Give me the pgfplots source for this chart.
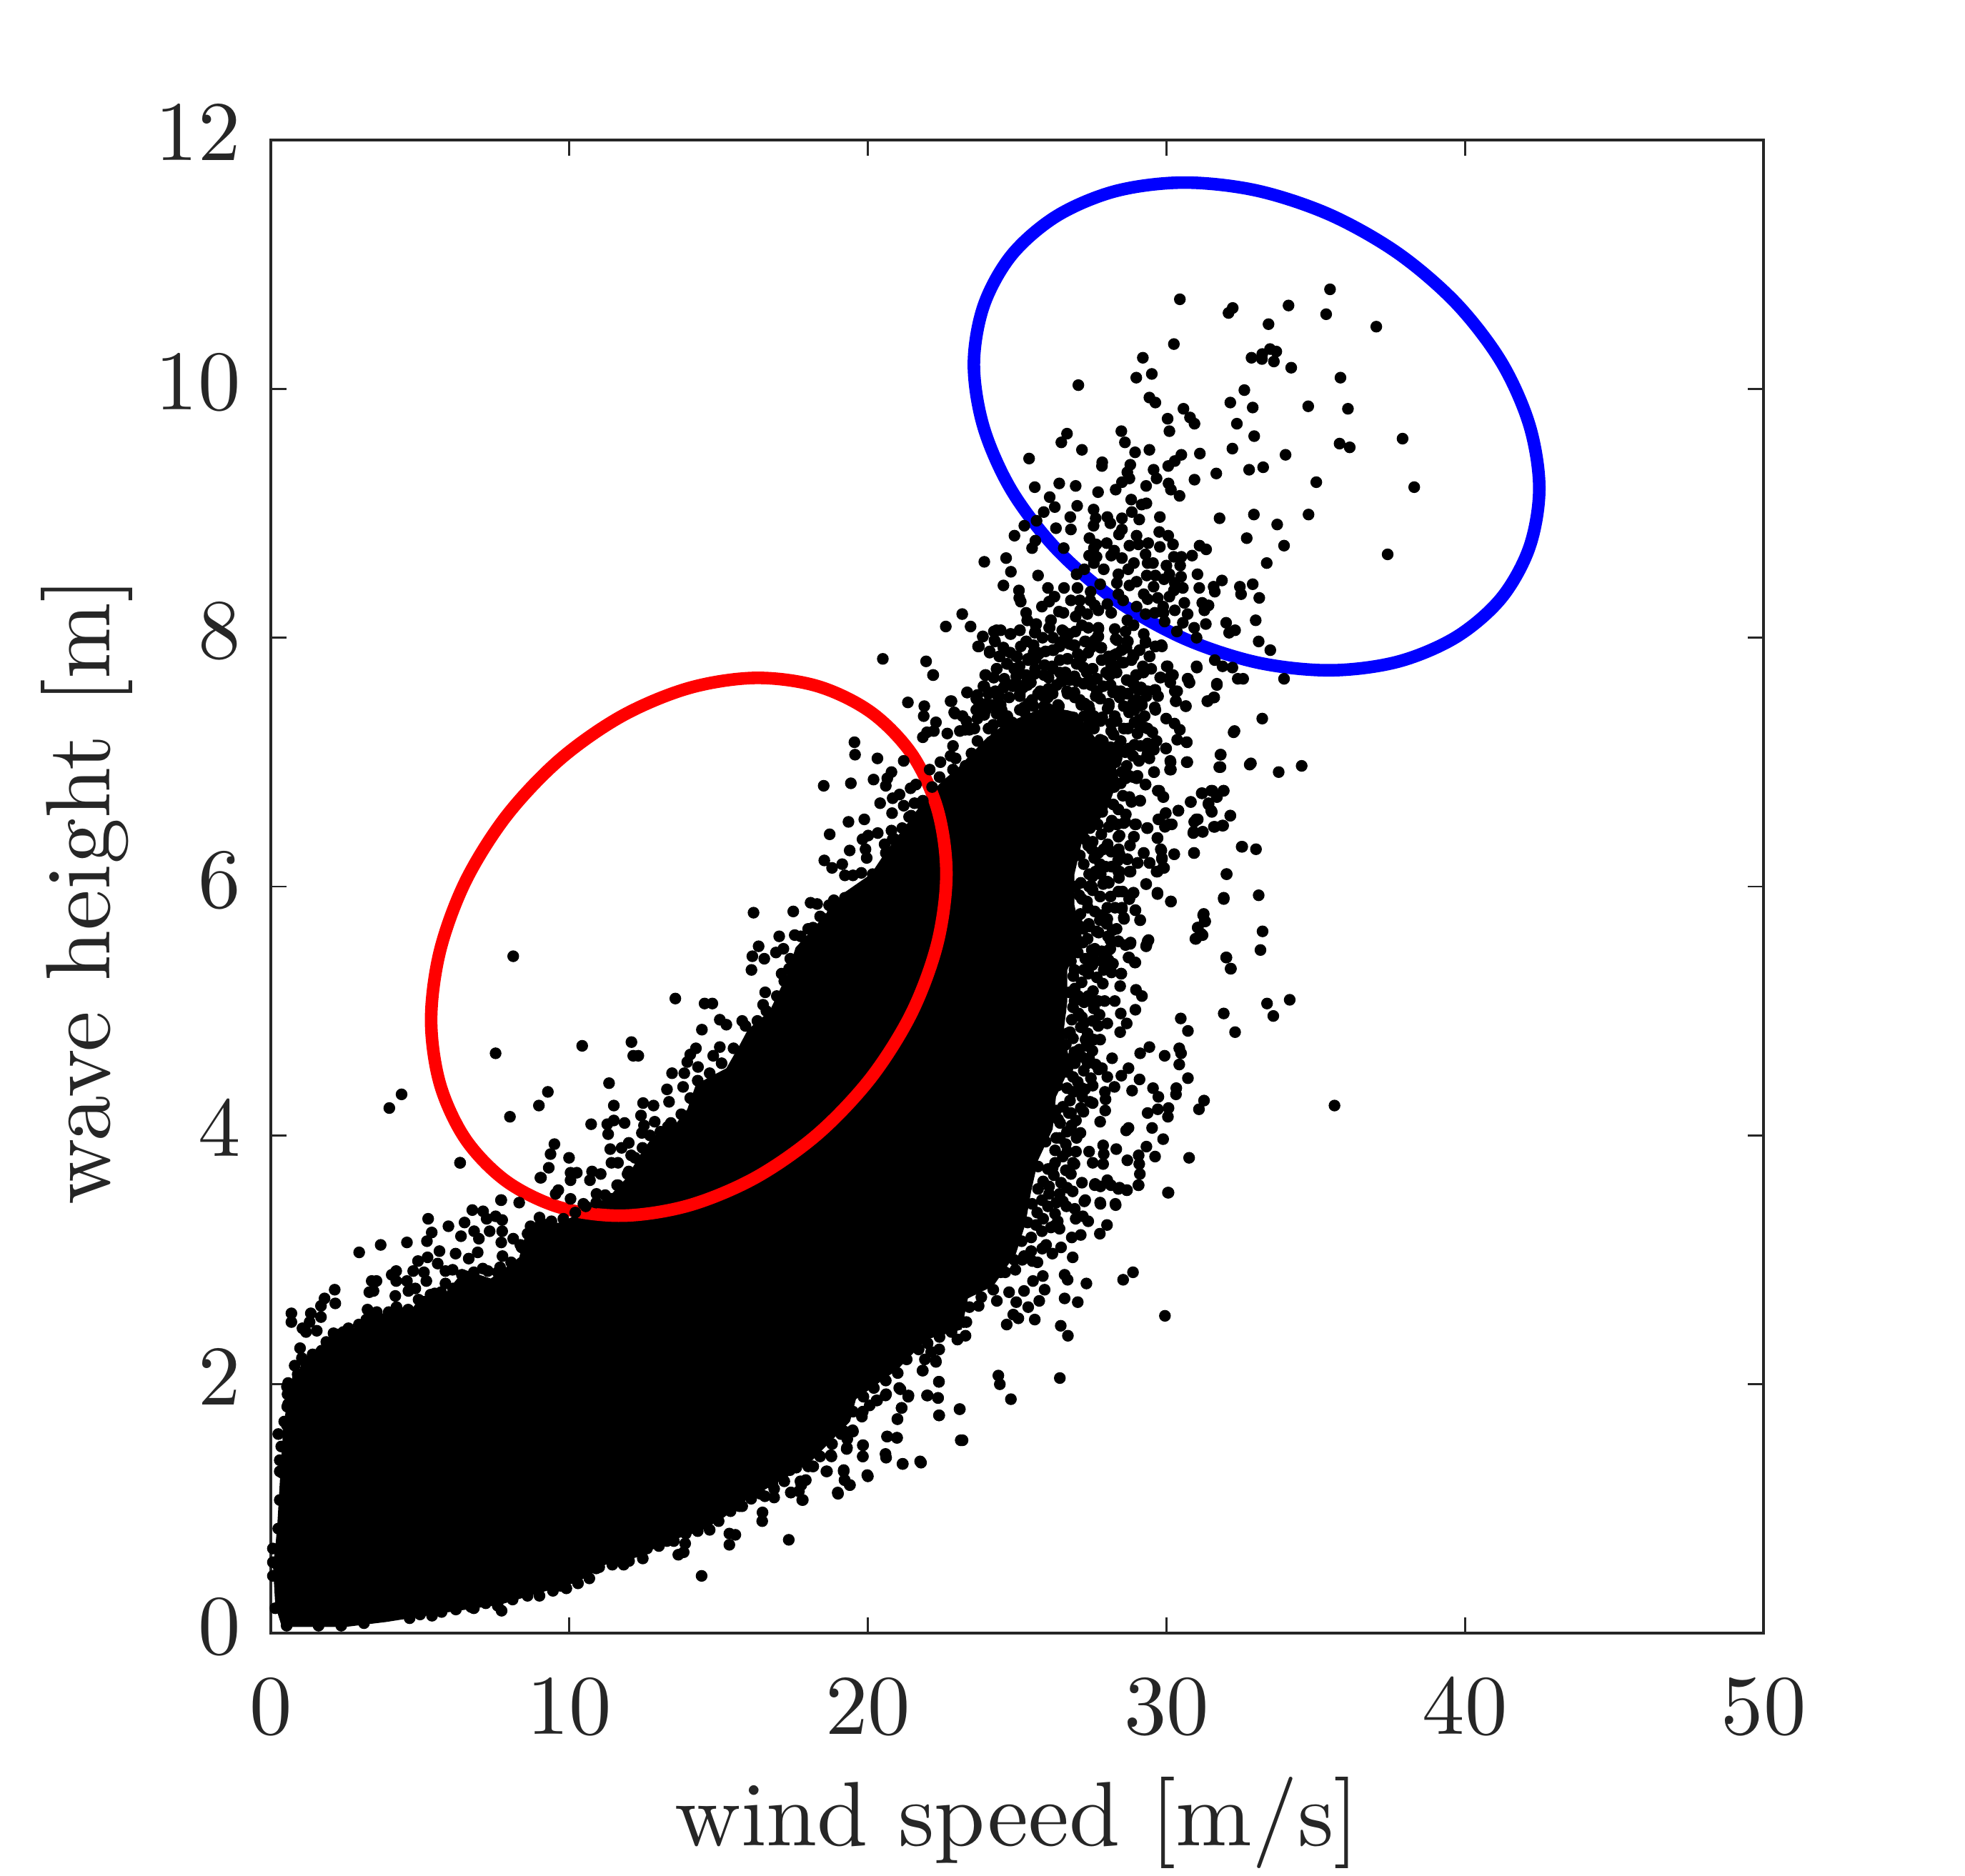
\documentclass[border=0pt]{standalone}
\usepackage{pgfplots}
\pgfplotsset{compat=1.18}
\definecolor{axgray}{gray}{0.15}
\begin{document}
\begin{tikzpicture}
\path[use as bounding box] (-94.75pt,-84.75pt) rectangle (592.75pt,571.5pt);
\begin{axis}[
  at={(0pt,0pt)},anchor=south west,
  scale only axis,width=522.25pt,height=522.5pt,
  xmin=0,xmax=50,ymin=0,ymax=12,
  xtick={0,10,...,50},ytick={0,2,...,12},
  tick align=inside,major tick length=5.4pt,
  axis line style={color=axgray,line width=1pt},
  every tick/.style={color=axgray,line width=0.7pt},
  tick label style={color=axgray,font=\fontsize{10}{12}\selectfont,inner sep=0pt},
  xticklabel style={anchor=base,yshift=-35.25pt,scale=2.97,transform shape},
  yticklabel style={anchor=base east,xshift=-10pt,yshift=-7.25pt,scale=2.97,transform shape},
  xlabel={wind speed [m/s]},ylabel={wave height [m]},
  label style={color=axgray,font=\fontsize{10}{12}\selectfont,inner sep=0pt},
  xlabel style={at={(axis description cs:0.5,0)},anchor=base,yshift=-74.25pt,scale=3.2,transform shape},
  ylabel style={at={(axis description cs:0,0.5)},anchor=base,xshift=-1.5pt,yshift=56.25pt,scale=3.2,transform shape},
  scatterpts/.style={only marks,mark=*,mark size=1.85pt,mark options={draw=none,fill=black}},
]
% solid part of the cloud
\addplot[fill=black,draw=none] coordinates {
(.37,.05)(2.51,.05)(3.88,.09)(5.72,.16)(7.70,.23)(9.38,.35)(10.29,.41)(11.21,.55)(12.28,.61)(13.35,.74)
(14.41,.82)(15.18,.93)(15.79,1.05)(17.26,1.25)(18.1,1.38)(19.4,1.70)(19.6,1.88)(21.0,2.12)(21.96,2.36)(23.14,2.44)
(23.35,2.69)(24.2,2.79)(24.96,3.05)(25.28,3.29)(25.46,3.54)(25.7,3.80)(26.19,4.05)(26.3,4.31)(26.8,4.56)(26.55,4.82)
(26.68,5.08)(26.68,5.33)(27.17,5.59)(26.92,5.85)(26.92,6.10)(27.17,6.36)(28.02,6.62)(28.39,6.87)(28.15,7.13)(27.6,7.2)
(27.0,7.4)(26.0,7.45)(25.0,7.35)(24.0,7.2)(23.0,6.95)(22.5,6.85)(21.9,6.7)(21.3,6.5)(20.6,6.28)(20.1,6.1)
(19.2,5.95)(18.16,5.66)(17.58,5.51)(17.29,5.29)(16.71,5.00)(15.98,4.85)(15.69,4.72)(15.26,4.54)(14.24,4.41)(13.95,4.21)
(13.52,4.08)(12.79,3.99)(12.36,3.84)(11.92,3.66)(11.34,3.51)(10.5,3.4)(9.75,3.3)(8.96,3.29)(8.56,3.23)(8.32,3.02)
(7.77,2.92)(7.37,2.85)(6.49,2.92)(5.77,2.71)(5.05,2.71)(4.65,2.58)(3.69,2.56)(3.30,2.58)(2.90,2.46)(2.34,2.43)
(1.54,2.25)(1.06,2.18)(.58,1.91)(.42,1.66)(.30,1.21)(.22,.88)(.14,.66)(.07,.55)(.15,.22)(.37,.05)
} -- cycle;
% single points, top right
\addplot[scatterpts] coordinates {
(30.45,10.72)(32.22,10.65)(32.08,10.61)(34.09,10.67)(35.48,10.80)(35.35,10.60)(33.42,10.52)(37.03,10.50)(30.25,10.36)(29.21,10.25)
(32.85,10.25)(33.21,10.28)(33.20,10.24)(33.47,10.32)(33.68,10.30)(33.60,10.22)(34.18,10.17)(29.51,10.12)(28.99,10.09)(27.05,10.03)
(35.83,10.09)(29.43,9.93)(29.63,9.89)(32.61,9.99)(32.14,9.89)(32.89,9.85)(34.75,9.86)(36.08,9.84)(30.57,9.84)(30.79,9.77)
(30.94,9.72)(30.04,9.76)(32.36,9.72)(30.10,9.66)(28.49,9.66)(26.67,9.64)(26.48,9.57)(32.94,9.62)(37.91,9.60)(35.80,9.56)
(36.14,9.53)(28.61,9.57)(27.17,9.51)(28.95,9.49)(29.43,9.51)(32.21,9.52)(31.12,9.48)(30.50,9.47)(33.99,9.47)(25.40,9.44)
(27.85,9.41)(27.84,9.38)(28.79,9.39)(30.28,9.42)(30.06,9.38)(29.57,9.35)(33.24,9.37)(32.77,9.35)(31.67,9.32)(28.69,9.33)
(28.76,9.28)(29.67,9.28)(30.94,9.27)(28.51,9.25)(28.30,9.19)(35.02,9.25)(38.30,9.21)(25.59,9.21)(26.41,9.24)(26.96,9.22)
(29.32,9.22)(30.07,9.24)(30.15,9.19)(27.71,9.17)(30.44,9.14)(26.09,9.13)(28.82,9.11)(29.33,9.08)(29.17,9.07)(27.01,9.06)
(26.26,9.05)(25.89,9.01)(27.56,9.03)(28.84,9.01)(29.78,8.97)(31.78,8.96)(32.93,8.99)(34.76,8.99)(26.78,8.97)(28.02,8.97)
(27.63,8.96)(28.51,8.96)(29.09,8.95)(28.12,8.92)(33.71,8.91)(27.56,8.90)(25.24,8.90)(25.65,8.94)(26.30,8.88)(26.80,8.87)
(28.51,8.87)(29.76,8.85)(30.06,8.82)(24.91,8.82)(28.41,8.83)(29.00,8.82)(32.69,8.80)(27.42,8.80)(25.61,8.78)(28.00,8.76)
(29.39,8.76)(30.22,8.75)(33.94,8.74)(25.50,8.72)(26.56,8.72)(27.57,8.72)(29.78,8.73)(31.11,8.74)(31.33,8.71)(28.76,8.74)
(29.06,8.75)(27.41,8.66)(27.66,8.65)(28.15,8.66)(28.51,8.64)(29.30,8.67)(30.50,8.65)(30.86,8.66)(24.63,8.64)(23.90,8.61)
(28.91,8.60)(29.37,8.60)(27.57,8.60)(33.36,8.60)(37.41,8.67)(30.00,8.58)(30.46,8.58)(24.79,8.53)(25.70,8.50)(27.25,8.55)
(28.72,8.55)(31.04,8.51)(28.39,8.51)(29.34,8.50)(29.63,8.50)(30.10,8.51)(30.49,8.49)(29.92,8.47)(26.99,8.51)(31.86,8.46)
(28.34,8.44)(30.28,8.44)(32.89,8.43)(24.54,8.42)(27.78,8.43)(28.76,8.42)(29.57,8.41)(26.03,8.40)(26.57,8.40)(27.02,8.40)
(32.46,8.41)(31.58,8.41)(31.10,8.40)(30.55,8.40)(25.06,8.38)(31.62,8.37)(30.25,8.38)(27.46,8.37)(28.39,8.35)(29.24,8.35)
(32.50,8.35)(29.37,8.31)(30.10,8.33)(29.71,8.32)(33.11,8.32)(25.07,8.32)(26.25,8.33)(25.12,8.29)(26.80,8.30)(26.07,8.29)
(25.83,8.25)(30.60,8.28)(31.20,8.28)(31.41,8.26)(29.89,8.25)(29.00,8.25)(27.60,8.26)(28.02,8.27)(31.27,8.22)(30.28,8.22)
(27.11,8.22)(26.40,8.21)(29.61,8.20)(30.71,8.19)(29.30,8.19)(23.16,8.19)(22.61,8.09)(23.44,8.09)(25.34,8.14)(26.13,8.14)
(26.96,8.17)(27.35,8.19)(27.72,8.22)(28.69,8.14)(30.55,8.12)(29.94,8.13)(31.32,8.11)(32.00,8.12)(32.99,8.14)(32.30,8.06)
(32.10,8.04)(30.93,8.08)(25.62,8.10)(26.09,8.08)(24.31,8.06)(25.09,8.06)(24.79,8.03)(25.61,8.05)(23.85,8.01)(24.26,7.97)
(26.56,8.05)(27.17,8.10)(27.72,8.07)(28.27,8.07)(28.63,8.05)(29.24,8.03)(31.01,8.00)(33.09,7.97)(33.48,7.90)(25.31,7.97)
(27.72,8.01)(28.35,7.98)(28.69,7.97)(29.30,7.96)(26.92,7.94)(27.27,7.97)(27.82,7.92)(29.63,7.93)(29.83,7.94)
(23.69,7.93)(24.08,7.89)(24.54,7.92)(24.42,7.85)(24.97,7.85)(25.36,7.83)(25.95,7.89)(26.22,7.90)(26.68,7.83)(24.67,7.79)
(24.32,7.75)(23.93,7.70)(22.19,7.70)(24.97,7.69)(24.21,7.68)(26.62,7.72)(26.99,7.79)(27.53,7.75)(28.02,7.83)(28.51,7.80)
(28.90,7.85)(29.43,7.85)(30.01,7.77)(31.01,7.77)(31.62,7.82)(31.88,7.77)(32.21,7.76)(32.39,7.67)(32.57,7.67)(33.94,7.67)
(30.71,7.67)(30.77,7.64)(31.69,7.62)(30.16,7.70)(29.79,7.68)(29.00,7.70)(28.08,7.70)(26.92,7.69)(23.87,7.61)(23.32,7.56)
(24.05,7.56)(23.63,7.51)(22.77,7.49)(24.36,7.53)(30.28,7.57)(29.61,7.58)(29.06,7.58)(28.69,7.55)(28.21,7.56)(27.47,7.62)
(26.50,7.66)(25.46,7.64)(24.85,7.61)(31.60,7.52)(31.38,7.49)(30.32,7.49)(30.65,7.45)(29.61,7.44)(29.18,7.46)(27.78,7.51)
(26.92,7.56)(26.19,7.55)(25.70,7.55)(25.09,7.53)(24.12,7.46)(22.89,7.40)(23.87,7.39)(24.48,7.42)(25.09,7.42)
(25.3,7.7)(25.6,7.75)(25.9,7.7)(26.2,7.75)(25.5,7.5)(25.9,7.45)(26.4,7.45)(26.7,7.55)(27.1,7.5)(27.4,7.45)(27.0,7.65)(25.2,7.6)
};
% middle of the upper cloud
\addplot[scatterpts] coordinates {
(20.50,7.83)(21.95,7.81)(22.18,7.70)(21.34,7.48)(21.89,7.45)(21.87,7.37)(19.55,7.16)(19.57,7.06)(20.32,7.03)(21.20,7.01)
(20.79,6.92)(20.65,6.87)(20.19,6.86)(19.43,6.83)(18.52,6.81)(20.60,6.81)(21.61,6.82)(21.43,6.79)(21.06,6.74)(20.83,6.71)
(20.41,6.67)(21.56,6.67)(21.20,6.65)(21.84,6.69)(20.81,6.59)(19.35,6.52)(19.88,6.54)(21.38,6.56)(18.72,6.42)(20.79,6.45)
(20.33,6.43)(20.01,6.41)(19.82,6.38)(20.83,6.38)(19.39,6.29)(20.56,6.34)(19.92,6.30)(19.96,6.23)(18.54,6.21)(18.80,6.15)
(19.14,6.18)(19.23,6.09)(19.50,6.09)(19.78,6.11)(20.16,6.10)(20.05,6.03)(19.64,5.95)(18.86,5.89)(19.23,5.91)(18.82,5.79)(18.54,5.74)
(23.85,8.01)(24.22,8.05)(24.45,8.06)(24.24,7.98)(24.77,8.03)(25.09,8.06)(25.34,8.14)(25.64,8.11)(25.59,8.04)(26.13,8.14)
(26.07,8.08)(26.51,8.06)(26.74,8.03)(27.38,8.08)(27.72,8.08)(27.70,8.01)(26.51,7.97)(25.30,7.97)(25.55,7.94)(26.88,7.94)
(27.29,7.97)(27.79,7.92)(28.30,7.99)(28.71,7.97)(29.30,7.97)(29.63,7.93)(29.85,7.93)(23.72,7.93)(24.08,7.88)(24.54,7.92)
(24.77,7.88)(25.00,7.85)(25.37,7.82)(25.69,7.88)(26.19,7.90)(26.69,7.83)(27.38,7.88)(28.07,7.85)(28.25,7.86)(28.89,7.86)
(29.44,7.85)(24.40,7.85)(24.66,7.79)(27.01,7.79)(28.57,7.80)(29.21,7.77)(30.04,7.77)(31.02,7.76)(24.31,7.75)(23.95,7.70)
(24.22,7.68)(25.92,7.78)(26.60,7.72)(27.52,7.75)(28.11,7.70)(28.98,7.70)(29.49,7.75)(29.81,7.68)(30.22,7.70)(30.72,7.67)
(25.00,7.70)(25.59,7.71)(26.92,7.68)(27.98,7.72)(28.85,7.64)(31.69,7.63)(30.77,7.64)(23.90,7.61)(24.82,7.62)(26.51,7.65)
(27.43,7.66)(29.17,7.59)(29.63,7.58)(30.13,7.64)(30.36,7.57)(23.33,7.56)(24.04,7.55)(23.67,7.54)(25.32,7.64)(26.05,7.59)
(27.88,7.61)(28.71,7.55)(29.72,7.53)(31.59,7.52)(31.37,7.49)(30.31,7.49)(22.80,7.49)(24.40,7.53)(23.72,7.48)(25.09,7.55)
(25.87,7.53)(26.69,7.55)(28.34,7.57)(30.65,7.45)(24.13,7.46)(24.45,7.46)(22.92,7.39)(29.08,7.45)(28.57,7.45)(29.63,7.42)
(28.07,7.45)(23.30,7.33)(23.90,7.38)(24.31,7.39)(25.23,7.44)(29.99,7.35)(22.28,7.32)(23.67,7.35)(24.50,7.32)(25.59,7.34)
(26.42,7.39)(27.24,7.37)(27.79,7.33)(29.08,7.34)(30.27,7.31)(32.28,7.25)(22.21,7.25)(21.98,7.24)(21.84,7.20)(22.66,7.23)
(23.08,7.25)(30.45,7.26)(23.40,7.26)(24.04,7.27)(24.77,7.21)(29.26,7.28)(29.53,7.24)(28.71,7.27)(22.85,7.13)(22.94,7.03)
(24.31,7.22)(30.36,7.18)(30.68,7.16)(29.99,7.11)(28.75,7.11)(29.58,7.10)(31.82,7.06)(29.35,7.05)(30.13,7.01)(30.70,7.00)
(30.15,6.94)(31.81,6.96)(32.79,6.98)(27.88,7.01)(29.08,7.01)(22.43,7.00)(22.85,6.94)(22.07,6.94)(29.58,6.92)(29.03,6.89)
(28.75,6.89)(29.30,6.82)(29.76,6.77)(29.90,6.72)(31.18,6.75)(31.50,6.77)(31.92,6.77)(31.69,6.72)(30.82,6.68)(31.41,6.66)
(29.12,6.69)(31.52,6.60)(30.40,6.61)(32.14,6.57)(29.97,6.59)(29.76,6.54)(31.00,6.54)(30.18,6.50)(29.95,6.48)(28.62,6.52)
(28.98,6.50)(28.34,6.50)(29.35,6.47)(30.91,6.44)(31.21,6.44)(31.62,6.48)(31.90,6.49)(28.91,6.40)(29.70,6.39)(28.43,6.41)
(32.54,6.32)(29.81,6.30)(29.85,6.23)(29.24,6.27)(30.26,6.26)(30.93,6.27)(28.69,6.22)(29.03,6.19)(29.44,6.19)(29.88,6.15)
(29.70,6.12)(28.80,6.12)(28.43,6.12)(28.16,6.16)(32.01,6.10)(29.32,6.02)(29.70,5.95)(30.15,5.88)(31.92,5.91)(28.07,6.03)
(28.89,5.95)(28.53,5.96)(28.75,5.90)(28.02,5.83)(28.51,5.82)(28.96,5.81)(28.57,5.75)(29.12,5.73)(31.25,5.78)(31.30,5.72)
(31.05,5.67)(31.21,5.61)(30.97,5.58)(29.40,5.57)(29.32,5.52)(28.80,5.55)(28.39,5.56)(28.07,5.49)(28.04,5.60)(28.75,5.43)
(28.96,5.39)(32.01,5.43)(32.16,5.34)(28.48,5.30)(27.52,5.48)(27.52,5.37)(27.84,5.40)(27.38,5.31)(28.16,5.31)
(27.5,6.0)(27.6,5.8)(27.8,6.1)(27.4,5.7)(27.9,6.3)(27.7,6.5)(28.0,5.7)(27.6,5.5)(27.2,5.55)(28.2,5.65)(28.4,6.3)(27.5,6.3)
(25.70,7.26)(26.92,7.18)(28.15,7.31)(28.39,7.13)(29.12,7.28)(29.37,7.15)(28.88,7.05)(27.53,7.05)(26.31,7.05)(27.41,6.92)
(28.51,6.92)(29.0,6.87)(28.15,6.92)(23.26,7.26)(24.48,7.23)(22.77,7.05)(27.78,7.18)
(25.12,7.93)(25.73,7.87)(26.42,7.93)(27.03,7.87)(27.47,7.92)(28.33,7.87)(28.66,7.92)
(25.08,7.77)(25.62,7.83)(26.17,7.77)(26.43,7.82)(27.23,7.76)(27.83,7.82)(28.27,7.77)(28.83,7.82)
(24.57,7.67)(26.43,7.72)(26.77,7.66)(27.33,7.72)(27.67,7.67)(28.33,7.72)(28.67,7.66)(29.23,7.72)
(24.27,7.57)(25.03,7.62)(25.77,7.57)(26.33,7.62)(26.67,7.57)(27.23,7.63)(27.67,7.57)(28.13,7.62)(28.47,7.57)(28.93,7.62)(29.37,7.57)
(23.97,7.47)(24.73,7.52)(25.37,7.47)(26.03,7.52)(26.37,7.46)(26.93,7.52)(27.27,7.47)(27.63,7.53)(28.07,7.47)(28.43,7.52)(28.87,7.47)(29.33,7.53)
(23.17,7.37)(23.63,7.42)(24.67,7.37)(26.03,7.43)(26.67,7.37)(27.43,7.42)(27.57,7.37)(28.03,7.43)(28.27,7.37)(28.93,7.42)(29.27,7.37)
(23.57,7.27)(24.83,7.32)(25.87,7.27)(27.43,7.32)(27.57,7.27)(28.33,7.33)(28.57,7.27)(28.93,7.32)(29.37,7.27)
(23.67,7.17)(24.93,7.22)(27.87,7.17)(28.23,7.22)(28.47,7.17)(29.03,7.23)(29.67,7.17)
(23.47,7.07)(28.13,7.12)(28.37,7.07)(29.13,7.13)(29.37,7.07)(23.27,6.97)(28.33,7.03)(28.67,6.97)(29.43,7.03)(28.63,6.87)
(24.55,7.6)(24.9,7.75)(25.35,7.62)(25.55,7.88)(26.05,7.68)(26.75,7.95)(27.15,7.84)(27.6,7.98)(28.15,7.78)(28.5,7.9)
(29.1,7.9)(29.0,7.5)(24.2,7.3)(24.4,7.15)(25.25,7.4)(25.55,7.45)(24.35,7.55)(23.95,7.42)(26.85,7.36)(27.15,7.46)
(27.85,7.36)(28.15,7.25)(28.75,7.4)(29.15,7.6)(26.2,8.0)(26.95,8.05)(25.85,8.0)(25.3,8.2)(26.55,8.2)(27.45,8.3)
(28.15,8.2)(28.9,8.1)(27.1,8.3)(28.55,8.3)(29.0,8.45)(27.9,8.55)(28.25,8.7)(29.55,8.6)(30.25,8.65)(27.65,8.75)(29.9,8.2)(30.35,8.05)
};
% right edge
\addplot[scatterpts] coordinates {
(33.21,7.35)(32.25,7.24)(30.68,7.16)(31.81,7.06)(30.68,7.00)(31.77,6.96)(32.83,6.99)(33.76,6.92)(34.53,6.97)(29.98,7.11)
(30.14,7.00)(30.12,6.94)(29.59,6.92)(29.30,6.82)(29.71,6.77)(29.89,6.72)(31.20,6.75)(31.54,6.77)(31.91,6.77)(31.69,6.72)
(30.81,6.68)(29.12,6.69)(31.41,6.67)(31.50,6.61)(30.40,6.61)(29.98,6.59)(29.73,6.54)(31.05,6.54)(30.93,6.52)(32.14,6.57)
(30.10,6.50)(29.98,6.49)(31.87,6.49)(31.59,6.48)(29.37,6.47)(28.95,6.50)(28.57,6.51)(28.33,6.50)(31.22,6.44)(30.90,6.43)
(28.91,6.40)(29.70,6.39)(28.39,6.40)(32.52,6.32)(33.00,6.30)(29.24,6.27)(29.83,6.29)(30.26,6.26)(30.92,6.27)(29.85,6.22)
(28.69,6.22)(29.43,6.19)(29.04,6.19)(29.92,6.15)(29.67,6.12)(28.76,6.12)(28.39,6.12)(32.02,6.10)(29.32,6.02)(29.70,5.94)
(30.15,5.88)(31.92,5.90)(33.09,5.93)(28.90,5.95)(28.76,5.90)(28.39,5.96)(28.02,6.04)(27.41,6.00)(28.51,5.83)(28.96,5.81)
(31.23,5.77)(31.28,5.72)(28.58,5.74)(29.12,5.73)(31.05,5.67)(31.17,5.62)(30.99,5.58)(33.22,5.64)(29.37,5.56)(29.33,5.53)
(28.79,5.54)(28.39,5.56)(28.63,5.53)(28.12,5.50)(33.15,5.49)(27.50,5.49)(32.00,5.43)(32.15,5.34)(28.73,5.43)(28.94,5.39)
(28.21,5.38)(27.53,5.38)(28.49,5.30)(27.38,5.30)(28.45,5.20)(28.98,5.17)(29.18,5.12)(28.27,5.08)(33.37,5.06)(34.13,5.09)
(33.58,4.96)(31.92,4.98)(28.96,5.01)(28.47,4.98)(30.48,4.94)(30.72,4.84)(32.30,4.83)(28.67,4.90)(28.45,4.83)(28.02,4.90)
(30.43,4.70)(29.43,4.71)(29.12,4.66)(30.49,4.66)(29.94,4.64)(28.18,4.62)(30.43,4.57)(27.84,4.54)(28.73,4.54)(28.49,4.48)
(30.72,4.46)(28.02,4.47)(29.10,4.45)(28.26,4.39)(29.55,4.38)(30.33,4.38)(30.32,4.33)(28.85,4.36)(29.73,4.31)(27.94,4.35)
(27.96,4.29)(31.26,4.28)(31.09,4.21)(35.63,4.24)(29.71,4.21)(30.07,4.22)(30.05,4.15)(29.37,4.18)(27.53,4.26)(27.95,4.20)
(27.22,4.19)(27.78,4.11)(26.80,4.18)(28.73,4.06)(28.65,4.04)(29.52,4.06)(26.80,4.05)(29.89,3.97)(26.99,3.98)(29.33,3.91)
(27.88,3.92)(28.32,3.89)(29.07,3.84)(28.69,3.80)(29.62,3.83)(30.76,3.82)(27.90,3.85)(27.88,3.77)(29.09,3.77)(29.11,3.69)
(27.41,3.87)(27.53,3.78)(26.92,3.77)(28.02,3.64)(27.60,3.60)(29.06,3.60)(28.39,3.57)(28.67,3.56)(30.05,3.54)(27.17,3.62)
(26.86,3.55)(27.78,3.46)(28.29,3.45)(27.25,3.47)
(26.92,5.08)(27.17,4.95)(27.41,5.08)(26.68,4.82)(27.29,4.77)(27.78,4.77)(26.92,4.67)(27.41,4.62)(26.68,4.51)(27.17,4.38)
(27.53,4.40)(26.92,5.33)(27.41,5.41)(27.90,5.33)(27.05,5.69)(27.66,5.64)(28.02,5.74)(27.17,5.90)(27.78,5.92)(27.41,6.10)
(27.78,6.18)(28.15,6.28)(27.53,6.36)(28.39,6.62)(28.76,6.72)(28.63,6.87)(26.44,4.10)(26.31,3.98)(26.68,3.87)(26.19,3.74)
(26.80,3.69)(26.07,3.59)(26.31,3.46)(25.70,3.57)
(28.62,7.08)(28.93,7.14)(28.47,6.83)(28.88,6.88)(28.22,6.66)(28.54,6.73)(28.83,6.68)(28.17,6.53)(28.64,6.58)(27.44,6.47)(27.82,6.42)(28.07,6.48)
(27.38,6.33)(27.72,6.27)(28.03,6.34)(28.43,6.26)(28.78,6.33)(27.23,6.18)(27.58,6.23)(27.96,6.16)(28.38,6.21)(27.13,6.03)(27.52,6.08)(27.88,6.02)(28.41,6.07)
(27.08,5.93)(27.53,5.97)(28.13,5.92)(27.12,5.78)(27.37,5.83)(27.82,5.77)(28.28,5.83)(27.42,5.68)(27.77,5.73)(28.33,5.66)(27.36,5.58)(27.73,5.63)(28.12,5.57)
(27.03,5.47)(27.28,5.42)(27.83,5.48)(28.06,5.41)(26.88,5.28)(27.23,5.33)(27.67,5.27)(28.03,5.34)(26.93,5.18)(27.16,5.23)(27.54,5.16)(27.87,5.22)
(26.87,5.03)(27.24,5.07)(27.57,5.02)(27.93,5.08)(26.83,4.93)(27.06,4.98)(27.53,4.92)(27.76,4.97)(26.77,4.83)(27.13,4.87)(27.36,4.82)(27.72,4.88)
(26.63,4.73)(26.87,4.78)(27.33,4.72)(27.57,4.77)(26.93,4.58)(27.17,4.63)(27.63,4.57)(26.87,4.47)(27.23,4.52)(27.47,4.46)(27.73,4.53)(26.67,4.38)(27.03,4.43)(27.27,4.37)
(26.53,4.23)(26.77,4.28)(27.13,4.22)(26.37,4.13)(26.73,4.18)(26.97,4.12)(26.43,3.98)(26.67,4.03)(26.27,3.88)(26.63,3.93)(26.97,3.87)
(26.03,3.73)(26.27,3.78)(26.63,3.72)(25.87,3.63)(26.23,3.68)(26.47,3.62)(25.83,3.48)(26.07,3.53)(26.53,3.47)(25.67,3.38)(26.03,3.43)(26.27,3.37)
(25.63,3.28)(25.87,3.33)(26.23,3.27)(25.47,3.18)(25.83,3.23)(25.23,3.03)(25.47,3.07)
(27.27,6.38)(27.62,6.12)(27.34,5.88)(27.22,5.66)(27.56,5.42)(27.05,5.12)(27.38,5.12)(27.71,5.08)(27.23,4.9)(27.52,4.68)
(27.08,4.69)(27.36,4.58)(26.82,4.62)(27.44,4.27)(27.18,4.31)(26.88,4.35)(26.82,4.08)(27.12,4.02)(26.53,3.83)(26.87,3.78)
(26.42,3.53)(26.67,3.58)(26.13,3.26)(26.36,3.31)(25.97,3.12)(26.18,3.05)(25.68,2.98)(25.53,2.83)(25.86,2.87)(25.23,2.75)
(25.37,2.62)(24.73,2.74)(24.45,2.9)(24.13,2.96)(23.85,2.82)
};
% lower edge
\addplot[scatterpts] coordinates {
(30.07,3.54)(29.07,3.60)(28.68,3.56)(28.43,3.58)(28.14,3.60)(27.79,3.59)(27.61,3.61)(27.79,3.45)(28.30,3.44)(27.28,3.48)
(26.65,3.43)(26.93,3.41)(27.20,3.35)(27.38,3.31)(26.96,3.33)(28.01,3.28)(27.77,3.21)(27.13,3.20)(26.83,3.18)(26.42,3.25)
(26.47,3.10)(26.86,3.02)(25.84,3.09)(25.51,2.99)(25.17,3.00)(24.94,2.92)(26.59,2.88)(26.69,2.84)(27.32,2.81)(28.55,2.84)
(28.88,2.90)(25.92,2.76)(25.74,2.67)(26.59,2.69)(27.03,2.66)(24.97,2.66)(24.32,2.67)(23.71,2.63)(24.87,2.56)(25.04,2.53)
(25.59,2.52)(24.65,2.48)(26.46,2.47)(26.70,2.39)(29.95,2.55)(23.30,2.50)(23.27,2.39)(23.00,2.36)(22.39,2.28)(22.12,2.26)
(21.91,2.20)(22.28,2.18)(21.84,2.11)(24.37,2.07)(24.42,2.00)(26.43,2.05)(24.79,1.88)(22.38,2.02)(21.09,1.96)(21.35,1.90)
(21.98,1.91)(22.35,1.89)(20.61,1.92)(20.31,1.87)(20.06,1.83)(21.13,1.81)(23.08,1.80)(22.39,1.75)(20.99,1.72)(19.80,1.74)
(23.17,1.55)(19.22,1.62)(19.50,1.62)(19.31,1.56)(20.65,1.58)(20.98,1.57)(19.84,1.51)(19.83,1.42)(19.29,1.48)(18.78,1.42)
(20.61,1.41)(21.17,1.36)(21.78,1.37)(18.63,1.30)(19.19,1.30)(20.00,1.26)(19.22,1.23)(19.40,1.19)(17.92,1.23)(17.74,1.22)
(17.69,1.14)(17.42,1.13)(19.00,1.12)(17.82,1.07)(17.35,.75)(18.17,1.34)
(7.73,.18)(6.71,.21)(9.45,.34)(10.29,.40)(10.67,.44)(10.90,.52)(11.44,.55)(11.82,.55)(12.46,.60)(13.65,.63)
(13.83,.65)(13.88,.72)(13.27,.74)(14.43,.46)(15.36,.71)(15.36,.80)(15.56,.79)(16.46,.90)(16.47,.97)(16.09,1.08)
(15.79,1.02)(16.55,1.10)(16.86,1.09)(16.86,1.16)(17.80,1.07)(17.42,1.13)(17.77,1.19)(18.99,1.13)(17.01,1.30)(17.39,1.31)
(18.61,1.30)(19.19,1.31)(19.22,1.23)(19.39,1.19)(19.98,1.27)(21.16,1.36)(21.75,1.38)(20.59,1.44)(19.83,1.42)(19.83,1.51)
(19.30,1.49)(18.76,1.43)(18.15,1.34)(20.64,1.58)(20.97,1.57)(23.11,1.55)(22.38,1.75)(23.07,1.80)(20.99,1.72)(21.13,1.81)
(22.0,1.91)(22.35,1.89)(21.36,1.91)(22.38,2.02)(21.83,2.11)(22.27,2.19)(21.05,1.97)(19.49,1.63)(19.19,1.62)(18.53,1.63)
(20.59,1.91)(20.29,1.87)(19.83,1.78)(23.0,2.36)
(.25,1.60)(.30,1.39)(.37,1.29)(.30,1.07)(.25,.84)(.07,.68)(.07,.57)(.07,.46)(.15,.20)(.53,.06)
(1.6,.06)(2.36,.06)(3.12,.08)(4.65,.12)(5.72,.17)
(5,.15)(5.4,.14)(6.2,.19)(6.8,.2)(7.2,.24)(7.6,.22)(8.1,.27)(8.6,.3)(9.0,.3)(9.7,.38)
(9.9,.36)(10.6,.5)(11.0,.53)(11.6,.6)(12.0,.58)(12.6,.68)(13.0,.7)(13.5,.74)(13.9,.8)(14.3,.82)
(14.7,.83)(15.0,.9)(15.4,.98)(15.7,1.02)(16.1,1.12)(16.4,1.12)(16.8,1.2)(17.2,1.22)(17.6,1.33)(18.0,1.34)
(18.4,1.42)(18.8,1.52)(19.1,1.6)(19.5,1.78)(19.85,1.9)(20.2,1.97)(20.6,2.03)(21.0,2.09)(21.3,2.2)(21.7,2.28)
(22.0,2.33)(22.4,2.38)(22.8,2.42)(23.2,2.5)(23.4,2.62)(23.8,2.7)(24.2,2.76)(24.6,2.9)(24.9,3.0)(25.15,3.15)
(25.35,3.3)(25.5,3.45)(25.7,3.75)(25.95,3.95)(26.3,4.2)(26.35,4.4)(26.7,4.55)(26.5,4.7)(26.35,4.85)(26.45,5.0)
(26.75,5.15)(26.8,5.4)(27.1,5.55)(27.0,5.75)(26.95,6.0)(27.1,6.25)(27.4,6.5)(27.85,6.6)(28.25,6.8)(28.3,7.0)
};
% upper left edge
\addplot[scatterpts] coordinates {
(6.34,3.78)(9.03,3.66)(7.71,3.48)(8.32,3.46)(6.75,3.40)(7.11,3.39)(7.53,3.35)(7.23,3.33)(7.75,3.32)(9.0,3.34)
(5.27,3.33)(6.49,3.30)(5.95,3.27)(7.75,3.23)(7.33,3.23)(6.81,3.23)(5.39,3.22)(6.37,3.19)(6.97,3.17)(5.23,3.15)
(4.56,3.14)(3.68,3.12)(2.96,3.06)(7.72,3.14)(8.12,3.17)(8.36,3.12)(8.60,3.21)(5.65,3.07)(6.19,3.05)(6.93,3.06)
(6.63,3.01)(7.76,3.03)(5.25,3.02)(4.93,2.99)(5.59,2.97)(6.09,2.92)(5.85,2.91)(7.27,2.91)(7.68,2.94)(4.20,2.91)
(4.05,2.88)(4.77,2.91)(5.13,2.90)(4.56,2.83)(4.20,2.83)(3.38,2.83)(3.54,2.83)(2.14,2.76)(1.80,2.69)(3.44,2.75)
(3.30,2.74)(4.17,2.71)(4.84,2.77)(4.61,2.75)(5.21,2.83)(5.85,2.81)(5.49,2.73)(2.16,2.65)(1.68,2.63)(3.24,2.60)
(4.21,2.62)(.69,2.57)(.69,2.50)(1.34,2.57)(1.68,2.54)(1.30,2.50)(1.06,2.45)(1.18,2.42)(1.54,2.43)(2.10,2.41)
(2.43,2.42)(3.85,2.53)(3.46,2.57)(1.86,2.34)(.98,2.29)(1.90,2.28)(1.64,2.25)(2.26,2.25)(1.04,2.21)(.80,2.15)
(.90,2.04)(.58,2.01)(.54,1.98)(.94,1.94)(1.24,1.97)(.56,1.92)(.58,1.84)(.54,1.67)
(8.12,5.44)(13.55,5.10)(14.53,5.06)(14.79,5.06)(16.17,5.79)(17.50,5.80)(18.08,5.87)(18.30,5.86)(17.03,5.60)(17.55,5.61)
(18.16,5.67)(16.34,5.52)(16.13,5.44)(16.53,5.42)(16.92,5.47)(17.17,5.50)(16.10,5.33)(17.36,5.34)(17.11,5.30)(16.56,5.15)
(16.49,5.05)(15.04,4.93)(15.26,4.89)(15.79,4.92)(14.44,4.85)(10.43,4.72)(12.08,4.75)(12.14,4.64)(12.31,4.64)(7.53,4.66)
(14.24,4.70)(14.05,4.65)(15.04,4.71)(14.82,4.64)(13.95,4.59)(13.44,4.50)(13.85,4.50)(14.31,4.55)(11.33,4.42)(9.28,4.35)
(8.98,4.24)(8.01,4.15)(4.38,4.33)(3.97,4.22)(13.27,4.37)(13.81,4.39)(12.47,4.26)(12.82,4.24)(13.34,4.27)(11.49,4.24)
(12.40,4.16)(12.86,4.11)(13.30,4.07)(10.73,4.09)(11.27,4.09)(11.49,4.12)(11.85,4.10)(12.50,4.08)(12.43,4.02)(11.30,4.01)
(9.50,3.93)(11.99,3.94)(11.75,3.90)(11.37,3.89)(9.37,3.85)(9.99,3.82)(6.34,3.78)(11.41,3.78)(11.63,3.78)(12.07,3.84)
(9.31,3.74)(10.76,3.71)(10.04,3.70)(10.25,3.70)(11.99,3.71)(9.05,3.66)(11.05,3.69)(10.69,3.64)(10.04,3.64)(11.63,3.60)
(9.63,3.56)(9.54,3.53)(10.91,3.53)(7.72,3.48)(10.04,3.49)(10.47,3.45)(11.41,3.49)
(20.6,6.27)(20.9,6.38)(21.15,6.47)(21.45,6.57)(21.75,6.67)(22.15,6.8)(22.4,6.88)(19.95,5.98)(19.6,5.92)(19.2,5.86)
(18.7,5.85)(18.4,5.76)(18.0,5.66)(17.75,5.6)(17.4,5.42)(17.2,5.24)(16.95,5.12)(16.6,5.0)(16.3,4.92)(15.9,4.88)
(15.5,4.7)(15.1,4.58)(14.7,4.5)(14.3,4.44)(14.05,4.3)(13.75,4.17)(13.4,4.1)(13.05,4.03)(12.7,4.0)(12.45,3.9)
(12.2,3.82)(11.95,3.69)(11.6,3.6)(11.2,3.52)(10.9,3.46)(10.55,3.43)(10.2,3.38)(9.8,3.33)(9.4,3.31)(9.05,3.3)
(8.7,3.27)(8.4,3.1)(8.05,2.98)(7.6,2.9)(7.1,2.93)(6.8,2.9)(6.4,2.88)(6.1,2.77)(5.7,2.74)(5.35,2.72)
(4.95,2.68)(4.6,2.6)(4.3,2.58)(3.95,2.58)(3.55,2.58)(3.2,2.52)(2.95,2.48)(2.6,2.45)(2.25,2.4)(2.0,2.33)
(1.7,2.27)(1.4,2.24)(1.15,2.18)(.9,2.08)(.7,1.98)(.55,1.82)(.45,1.7)(.35,1.5)(.3,1.3)
};
% red ellipse
\addplot[color=red,line width=4.4pt,smooth cycle,tension=0.55] coordinates {
(22.63,6.104)(22.33,6.622)(21.47,7.065)(20.10,7.402)(18.31,7.611)(16.23,7.677)(14.00,7.595)(11.77,7.372)
(9.69,7.023)(7.90,6.570)(6.53,6.046)(5.67,5.486)(5.37,4.928)(5.67,4.410)(6.53,3.967)(7.90,3.630)
(9.69,3.421)(11.77,3.355)(14.00,3.437)(16.23,3.660)(18.31,4.009)(20.10,4.462)(21.47,4.986)(22.33,5.546)
};
% blue ellipse
\addplot[color=blue,line width=4.4pt,smooth cycle,tension=0.55] coordinates {
(42.49,9.201)(42.16,9.708)(41.22,10.215)(39.71,10.687)(37.75,11.091)(35.47,11.400)(33.02,11.594)(30.57,11.658)
(28.29,11.589)(26.33,11.390)(24.82,11.077)(23.88,10.669)(23.55,10.195)(23.88,9.688)(24.82,9.181)(26.33,8.709)
(28.29,8.305)(30.57,7.996)(33.02,7.802)(35.47,7.738)(37.75,7.807)(39.71,8.006)(41.22,8.319)(42.16,8.727)
};
\end{axis}
\end{tikzpicture}
\end{document}
